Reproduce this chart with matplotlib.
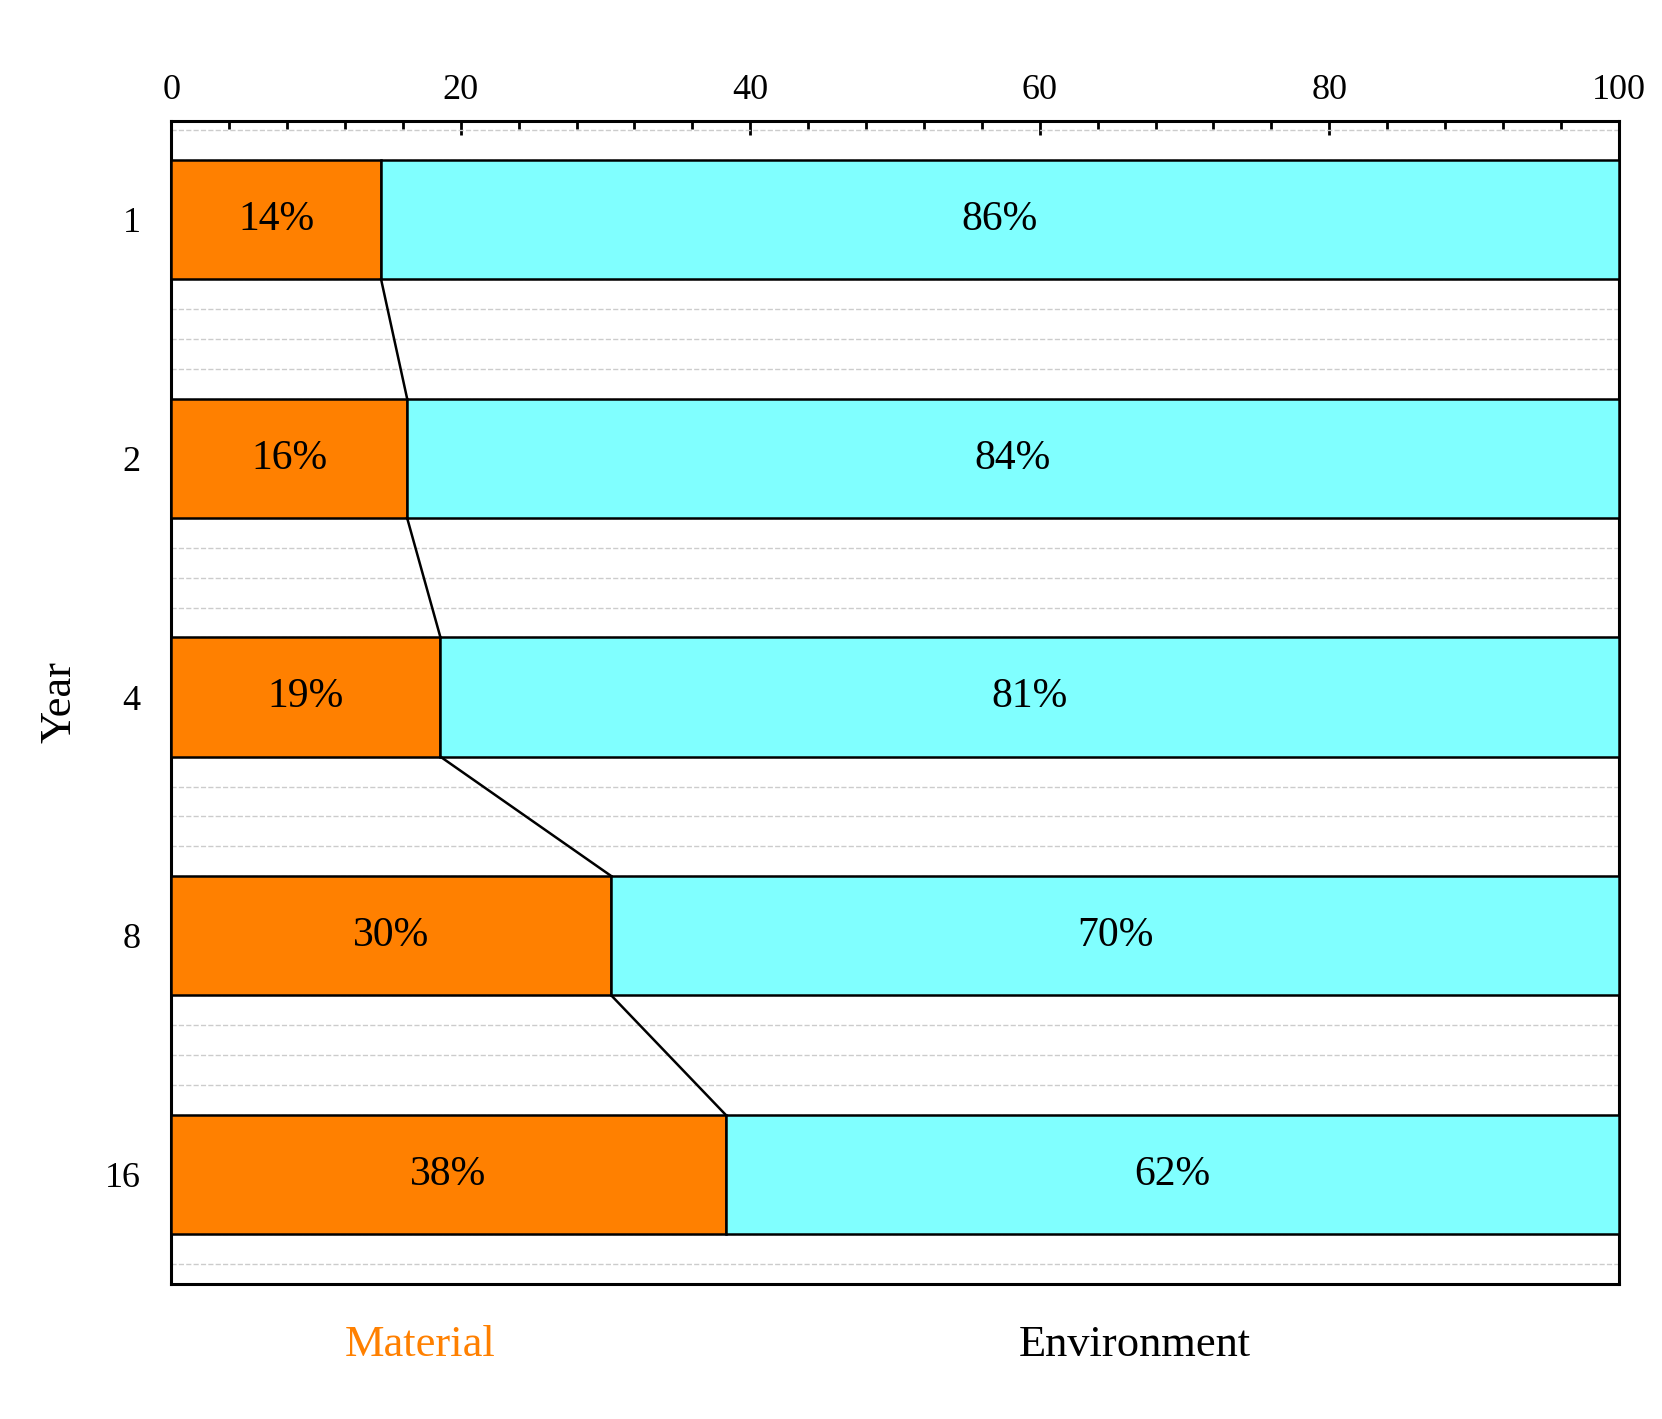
import matplotlib
matplotlib.use("Agg")
import matplotlib.pyplot as plt
from matplotlib.ticker import MultipleLocator

years = ["1", "2", "4", "8", "16"]
material = [14.5, 16.3, 18.6, 30.4, 38.3]
labels_mat = ["14%", "16%", "19%", "30%", "38%"]
labels_env = ["86%", "84%", "81%", "70%", "62%"]

plt.rcParams["font.family"] = "Liberation Serif"
fig = plt.figure(figsize=(16.62, 14.19), dpi=100)
ax = fig.add_axes([0.103, 0.095, 0.871, 0.82])
pos = list(range(len(years)))
env = [100 - m for m in material]
h = 0.5
ax.barh(pos, material, height=h, color="#FF8000", edgecolor="black", linewidth=1.8, zorder=3)
ax.barh(pos, env, left=material, height=h, color="#80FFFF", edgecolor="black", linewidth=1.8, zorder=3)
for i in pos:
    ax.text(material[i] / 2, i, labels_mat[i], ha="center", va="center", fontsize=30, zorder=4)
    ax.text(material[i] + env[i] / 2, i, labels_env[i], ha="center", va="center", fontsize=30, zorder=4)
for i in pos[:-1]:
    ax.plot([material[i], material[i + 1]], [i + h / 2, i + 1 - h / 2], color="black", lw=1.8, zorder=4)

ax.set_xlim(0, 100)
ax.set_ylim(4.46, -0.415)
ax.set_yticks(pos)
ax.set_yticklabels(years)
ax.yaxis.set_minor_locator(MultipleLocator(0.125))
ax.yaxis.grid(True, which="minor", linestyle="--", color="#cccccc", lw=1, zorder=0)
ax.tick_params(axis="y", which="both", length=0, labelsize=26, pad=22)
ax.xaxis.tick_top()
ax.set_xticks(range(0, 101, 20))
ax.xaxis.set_minor_locator(MultipleLocator(4))
ax.tick_params(axis="x", which="major", direction="in", length=10, width=2, labelsize=26, pad=10)
ax.tick_params(axis="x", which="minor", direction="in", length=6, width=2)
for s in ax.spines.values():
    s.set_linewidth(2.2)
ax.set_ylabel("Year", fontsize=32, labelpad=18)
fig.text(0.253, 0.052, "Material", color="#FF8000", fontsize=32, ha="center", va="center")
fig.text(0.683, 0.052, "Environment", color="black", fontsize=32, ha="center", va="center")
fig.savefig("out.png", dpi=100)
